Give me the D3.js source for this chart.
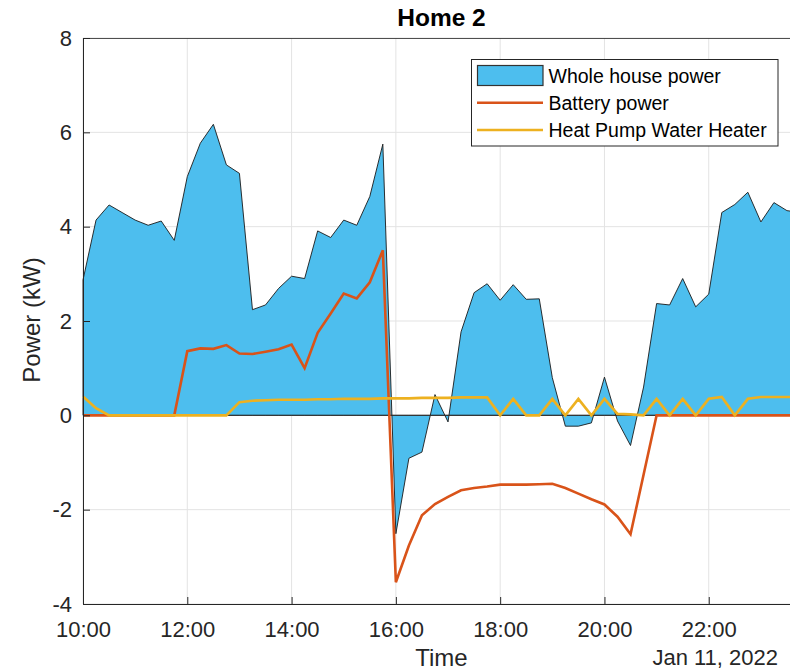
<!DOCTYPE html>
<html>
<head>
<meta charset="utf-8">
<script src="https://cdn.jsdelivr.net/npm/d3@7"></script>
<style>
  body { margin: 0; background: #fff; }
  svg text { font-family: "Liberation Sans", Arial, sans-serif; fill: #262626; }
</style>
</head>
<body>
<svg id="canvas" width="790" height="672"></svg>
<script>
// values, one per 15 minutes from 10:00
let housePower = [2.87, 4.14, 4.46, 4.30, 4.14, 4.03, 4.12, 3.71, 5.06, 5.77, 6.17, 5.31, 5.13, 2.24,
  2.34, 2.69, 2.95, 2.90, 3.91, 3.77, 4.14, 4.03, 4.64, 5.75, -2.51, -0.91, -0.78, 0.44,
  -0.14, 1.77, 2.60, 2.79, 2.44, 2.77, 2.46, 2.47, 0.80, -0.23, -0.23, -0.16, 0.81, -0.12,
  -0.64, 0.60, 2.37, 2.34, 2.90, 2.30, 2.57, 4.30, 4.47, 4.73, 4.10, 4.51, 4.34, 4.30]

let batteryPower = [0, 0, 0, 0, 0, 0, 0, 0, 1.36, 1.42, 1.41, 1.49, 1.31, 1.30,
  1.35, 1.40, 1.50, 1.00, 1.75, 2.16, 2.58, 2.48, 2.82, 3.50, -3.54, -2.76, -2.12, -1.88,
  -1.73, -1.59, -1.54, -1.51, -1.47, -1.47, -1.47, -1.46, -1.45, -1.54, -1.66, -1.78, -1.89, -2.15,
  -2.52, -1.26, 0, 0, 0, 0, 0, 0, 0, 0, 0, 0, 0, 0]

let heaterPower = [0.40, 0.15, 0, 0, 0, 0, 0, 0, 0, 0, 0, 0, 0.28, 0.31,
  0.32, 0.33, 0.33, 0.33, 0.34, 0.34, 0.35, 0.35, 0.35, 0.36, 0.36, 0.36, 0.37, 0.37,
  0.37, 0.38, 0.38, 0.38, 0, 0.35, 0, 0, 0.35, 0, 0.35, 0, 0.35, 0.03,
  0.02, 0, 0.35, 0, 0.35, 0, 0.35, 0.39, 0, 0.35, 0.39, 0.39, 0.39, 0.39]

let yTicks = [-4, -2, 0, 2, 4, 6, 8]
let xTickHours = [10, 12, 14, 16, 18, 20, 22]
let legendLabels = ['Whole house power', 'Battery power', 'Heat Pump Water Heater']

let times = housePower.map((d, i) => new Date(2022, 0, 11, 10, 15 * i))

let canvas = d3.select('#canvas')

let plotLeft = 83, plotRight = 800, plotTop = 38, plotBottom = 604

let x = d3.scaleTime()
    .domain([new Date(2022, 0, 11, 10, 0), new Date(2022, 0, 11, 23, 45)])
    .range([plotLeft, plotRight])

let y = d3.scaleLinear().domain([-4, 8]).range([plotBottom, plotTop])

let xTicks = xTickHours.map(h => new Date(2022, 0, 11, h, 0))

// grid behind everything
canvas.append('g').selectAll('line')
    .data(xTicks)
    .enter()
    .append('line')
    .attr('x1', d => x(d)).attr('x2', d => x(d))
    .attr('y1', plotTop).attr('y2', plotBottom)
    .style('stroke', '#e3e3e3')
    .style('stroke-width', 1)

canvas.append('g').selectAll('line')
    .data(yTicks)
    .enter()
    .append('line')
    .attr('x1', plotLeft).attr('x2', 790)
    .attr('y1', d => y(d)).attr('y2', d => y(d))
    .style('stroke', '#e3e3e3')
    .style('stroke-width', 1)

let houseRows = times.map((t, i) => ({ t: t, v: housePower[i] }))

let area = d3.area()
    .x(d => x(d.t))
    .y0(y(0))
    .y1(d => y(d.v))

canvas.append('path')
    .datum(houseRows)
    .attr('d', area)
    .attr('fill', '#4DBEEE')
    .style('stroke', '#1a1a1a')
    .style('stroke-width', 0.9)

// baseline
canvas.append('line')
    .attr('x1', plotLeft).attr('x2', 790)
    .attr('y1', y(0)).attr('y2', y(0))
    .style('stroke', '#333')
    .style('stroke-width', 1)

let line = d3.line()
    .x(d => x(d.t))
    .y(d => y(d.v))

canvas.append('path')
    .datum(times.map((t, i) => ({ t: t, v: batteryPower[i] })))
    .attr('d', line)
    .attr('fill', 'none')
    .style('stroke', '#D95319')
    .style('stroke-width', 2.6)

canvas.append('path')
    .datum(times.map((t, i) => ({ t: t, v: heaterPower[i] })))
    .attr('d', line)
    .attr('fill', 'none')
    .style('stroke', '#EDB120')
    .style('stroke-width', 2.6)

// axes box
canvas.append('line')
    .attr('x1', plotLeft).attr('x2', 790).attr('y1', plotTop + 0.5).attr('y2', plotTop + 0.5)
    .style('stroke', '#262626').style('stroke-width', 0.8)

let xAxis = d3.axisBottom(x)
    .tickValues(xTicks)
    .tickFormat(d3.timeFormat('%H:%M'))
    .tickSizeInner(-7)
    .tickSizeOuter(0)

let gx = canvas.append('g')
    .attr('transform', 'translate(0,' + plotBottom + ')')
    .call(xAxis)
gx.select('.domain').attr('d', 'M' + plotLeft + ',0.5H790').style('stroke', '#262626')
gx.selectAll('.tick line').style('stroke', '#262626')
gx.selectAll('.tick text')
    .attr('y', 33)
    .attr('dy', 0)
    .style('font-size', '22px')
    .style('fill', '#262626')

let yAxis = d3.axisLeft(y)
    .tickValues(yTicks)
    .tickFormat(d => String(d))
    .tickSizeInner(-7)
    .tickSizeOuter(0)

let gy = canvas.append('g')
    .attr('transform', 'translate(' + plotLeft + ',0)')
    .call(yAxis)
gy.select('.domain').attr('d', 'M0.5,' + plotTop + 'V' + plotBottom).style('stroke', '#262626')
gy.selectAll('.tick line').style('stroke', '#262626')
gy.selectAll('.tick text')
    .attr('x', -11)
    .style('font-size', '22px')
    .style('fill', '#262626')

// titles
canvas.append('text')
    .attr('x', 441.5).attr('y', 26)
    .attr('text-anchor', 'middle')
    .style('font-size', '24.5px')
    .style('font-weight', 'bold')
    .style('fill', '#000')
    .text('Home 2')

canvas.append('text')
    .attr('x', 441.5).attr('y', 666)
    .attr('text-anchor', 'middle')
    .style('font-size', '24px')
    .text('Time')

canvas.append('text')
    .attr('x', 778).attr('y', 665)
    .attr('text-anchor', 'end')
    .style('font-size', '22px')
    .text('Jan 11, 2022')

canvas.append('text')
    .attr('transform', 'translate(40,320) rotate(-90)')
    .attr('text-anchor', 'middle')
    .style('font-size', '24px')
    .text('Power (kW)')

// legend
let legend = canvas.append('g')
legend.append('rect')
    .attr('x', 471.5).attr('y', 59.5)
    .attr('width', 306.5).attr('height', 86.5)
    .attr('fill', '#fff')
    .style('stroke', '#262626')
    .style('stroke-width', 1)

let rowY = [75.5, 102.7, 130]

legend.append('rect')
    .attr('x', 477.5).attr('y', 65.5)
    .attr('width', 65.5).attr('height', 20)
    .attr('fill', '#4DBEEE')
    .style('stroke', '#333')
    .style('stroke-width', 1.2)

legend.selectAll('line')
    .data([['#D95319', rowY[1]], ['#EDB120', rowY[2]]])
    .enter()
    .append('line')
    .attr('x1', 477).attr('x2', 543)
    .attr('y1', d => d[1]).attr('y2', d => d[1])
    .style('stroke', d => d[0])
    .style('stroke-width', 2.6)

legend.selectAll('text')
    .data(legendLabels)
    .enter()
    .append('text')
    .attr('x', 548.5)
    .attr('y', (d, i) => rowY[i] + 7)
    .style('font-size', '19.5px')
    .style('fill', '#000')
    .text(d => d)
</script>
</body>
</html>
